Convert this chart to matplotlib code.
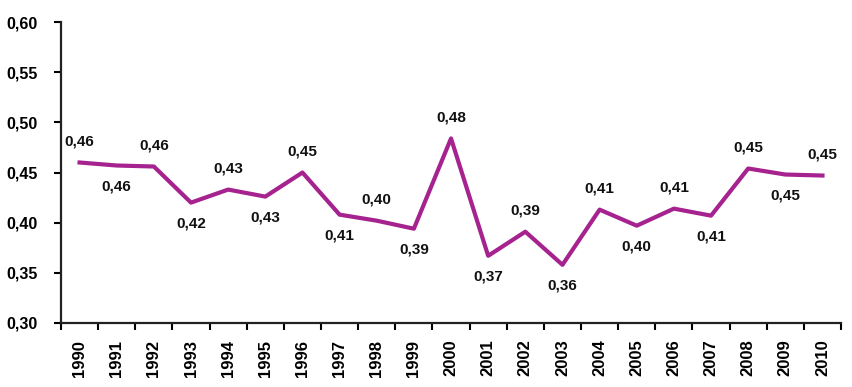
import numpy as np
import matplotlib.pyplot as plt

years = [str(y) for y in range(1990, 2011)]
values = [0.460, 0.457, 0.456, 0.420, 0.433, 0.426, 0.450, 0.408, 0.402, 0.394, 0.484,
          0.367, 0.391, 0.358, 0.413, 0.397, 0.414, 0.407, 0.454, 0.448, 0.447]
# +1 = label above the point, -1 = below
label_side = [1, -1, 1, -1, 1, -1, 1, -1, 1, -1, 1, -1, 1, -1, 1, -1, 1, -1, 1, -1, 1]

plt.rcParams['font.family'] = ['Liberation Sans', 'DejaVu Sans']

fig = plt.figure(figsize=(8.53, 3.87), dpi=100)
ax = fig.add_axes([0.0715, 0.1654, 0.9145, 0.7776])

x = np.arange(len(years))
ax.plot(x, values, color='#a5228f', linewidth=3.0, solid_joinstyle='round')

for xi, v, s in zip(x, values, label_side):
    ax.annotate(f"{v:.2f}".replace('.', ','), (xi, v), xytext=(0, 15 * s),
                textcoords='offset points', ha='center', va='center',
                fontsize=11, fontweight='bold', color='#111111')

ax.set_xlim(-0.5, len(years) - 0.5)
ax.set_ylim(0.30, 0.60)
ax.set_yticks(np.arange(0.30, 0.601, 0.05))
ax.set_yticklabels([f"{t:.2f}".replace('.', ',') for t in np.arange(0.30, 0.601, 0.05)],
                   fontsize=11.5, fontweight='bold')

# tick marks between categories, year labels at the centers
ax.set_xticks(np.arange(-0.5, len(years), 1.0))
ax.set_xticklabels([])
ax.set_xticks(x, minor=True)
ax.set_xticklabels(years, minor=True, rotation=90, fontsize=12, fontweight='bold')
ax.tick_params(axis='x', which='minor', length=0, pad=12)
ax.tick_params(axis='x', which='major', length=5, width=1.5, direction='out')
ax.tick_params(axis='y', length=5, width=1.5, direction='out', pad=12)

for side in ['top', 'right']:
    ax.spines[side].set_visible(False)
for side in ['left', 'bottom']:
    ax.spines[side].set_linewidth(1.6)
    ax.spines[side].set_color('#222222')

fig.savefig('out.png', dpi=100)
